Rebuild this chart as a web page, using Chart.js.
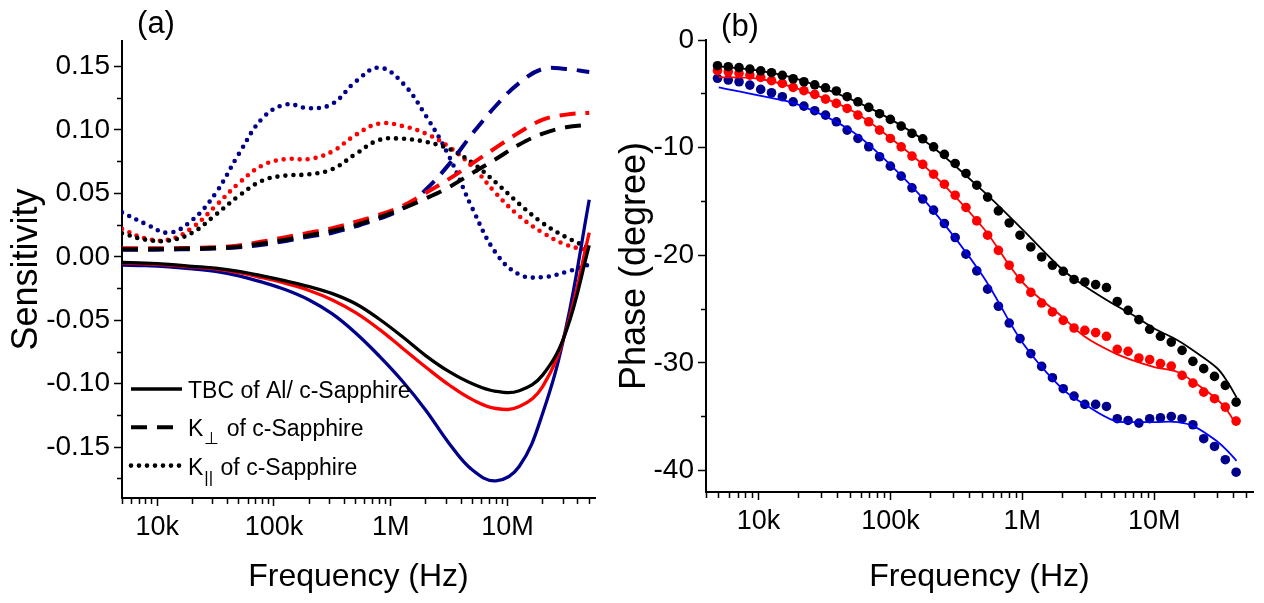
<!DOCTYPE html>
<html>
<head>
<meta charset="utf-8">
<title>Sensitivity and phase vs frequency</title>
<script src="https://cdn.jsdelivr.net/npm/chart.js@4.4.1/dist/chart.umd.min.js"></script>
<style>
  body { margin: 0; background: #fff; }
  #page { position: relative; width: 1264px; height: 603px; overflow: hidden; }
  #sens { position: absolute; left: 0; top: 0; }
  #phase { position: absolute; left: 600px; top: 0; }
</style>
</head>
<body>
<div id="page">
  <canvas id="sens" width="600" height="603"></canvas>
  <canvas id="phase" width="664" height="603"></canvas>
</div>
<script>
// panel (a) - sensitivity, every 0.2 decade
let freqA = [5000, 7940, 12600, 20000, 31600, 50000, 79400, 126000, 200000, 316000, 500000,
  794000, 1260000, 2000000, 3160000, 5000000, 7940000, 12600000, 20000000, 31600000, 50000000]

let tbcBlack = [-0.0045, -0.005, -0.006, -0.0075, -0.009, -0.0115, -0.015, -0.019, -0.0235, -0.029, -0.037,
  -0.049, -0.063, -0.078, -0.0905, -0.100, -0.106, -0.1055, -0.093, -0.059, 0.009]
let tbcRed = [-0.005, -0.0055, -0.0065, -0.008, -0.0095, -0.0125, -0.0165, -0.021, -0.0265, -0.034, -0.044,
  -0.057, -0.072, -0.087, -0.101, -0.1125, -0.1195, -0.118, -0.102, -0.058, 0.019]
let tbcBlue = [-0.0065, -0.007, -0.008, -0.0095, -0.0115, -0.015, -0.020, -0.026, -0.034, -0.045, -0.060,
  -0.078, -0.098, -0.121, -0.147, -0.168, -0.1765, -0.165, -0.123, -0.056, 0.045]

let kPerpBlack = [0.006, 0.006, 0.0063, 0.0065, 0.007, 0.008, 0.0105, 0.0135, 0.017, 0.0205, 0.025,
  0.031, 0.038, 0.046, 0.055, 0.066, 0.077, 0.0885, 0.097, 0.102, 0.104]
let kPerpRed = [0.0068, 0.0068, 0.0068, 0.007, 0.0075, 0.009, 0.012, 0.0155, 0.019, 0.0225, 0.0275,
  0.033, 0.040, 0.0505, 0.0614, 0.0736, 0.086, 0.098, 0.108, 0.112, 0.1134]
let kPerpBlue = [0.0055, 0.0055, 0.0058, 0.006, 0.0065, 0.0075, 0.0095, 0.0125, 0.016, 0.019, 0.024,
  0.030, 0.038, 0.053, 0.073, 0.097, 0.119, 0.137, 0.148, 0.148, 0.1455]

let kParBlack = [0.0186, 0.0135, 0.0128, 0.019, 0.033, 0.048, 0.060, 0.064, 0.065, 0.069, 0.081,
  0.092, 0.093, 0.0905, 0.085, 0.074, 0.0585, 0.0416, 0.0265, 0.0155, 0.007]
let kParRed = [0.022, 0.0145, 0.0135, 0.023, 0.040, 0.058, 0.072, 0.077, 0.077, 0.083, 0.096,
  0.105, 0.103, 0.097, 0.0865, 0.071, 0.050, 0.032, 0.019, 0.0095, 0.005]
let kParBlue = [0.035, 0.026, 0.019, 0.029, 0.050, 0.081, 0.109, 0.120, 0.117, 0.1205, 0.138,
  0.149, 0.137, 0.111, 0.079, 0.038, 0.003, -0.014, -0.016, -0.012, -0.006]

// panel (b) - measured phase (dots) and model fits (lines)
let freqB = [4890, 5900, 7120, 8600, 10390, 12550, 15150, 18300, 22090, 26680, 32210, 38890,
  46960, 56710, 68480, 82690, 99860, 120600, 145600, 175800, 212300, 256400, 309600, 373800,
  451400, 545100, 658200, 794800, 959800, 1159000, 1400000, 1690000, 2041000, 2464000, 2976000,
  3593000, 4339000, 5240000, 6327000, 7640000, 9226000, 11140000, 13450000, 16240000, 19620000,
  23690000, 28600000, 34540000, 41710000]

let phaseBlack = [-2.39, -2.48, -2.57, -2.70, -2.86, -3.04, -3.28, -3.60, -3.88, -4.16, -4.44, -4.74,
  -5.27, -5.74, -6.26, -6.85, -7.38, -8.00, -8.68, -9.18, -9.93, -10.63, -11.47, -12.40,
  -13.49, -14.60, -15.88, -17.0, -18.14, -19.23, -20.16, -20.93, -21.49, -22.25, -22.48,
  -22.73, -23.0, -24.3, -25.12, -25.98, -26.88, -27.53, -28.07, -28.84, -29.86,
  -30.54, -31.26, -32.09, -33.65]
let phaseRed = [-2.85, -2.95, -3.10, -3.26, -3.47, -3.78, -4.03, -4.40, -4.71, -5.05, -5.49, -5.89,
  -6.36, -6.98, -7.60, -8.37, -9.15, -9.93, -10.79, -11.56, -12.47, -13.40, -14.42, -15.56,
  -16.81, -18.14, -19.55, -20.93, -22.2, -23.45, -24.44, -25.27, -26.05, -26.76, -26.98,
  -27.19, -27.53, -28.74, -28.93, -29.55, -29.70, -30.07, -30.30, -31.16, -31.88,
  -32.72, -33.33, -34.11, -35.41]
let phaseBlue = [-3.56, -3.72, -3.88, -4.19, -4.59, -4.90, -5.27, -5.74, -6.14, -6.57, -6.98, -7.60,
  -8.37, -9.15, -9.92, -10.85, -11.72, -12.65, -13.74, -14.78, -15.81, -17.05, -18.35, -19.9,
  -21.45, -23.15, -24.74, -26.30, -27.75, -29.14, -30.33, -31.38, -32.40, -33.09, -33.86,
  -33.86, -34.05, -35.19, -35.35, -35.60, -35.19, -35.10, -34.98, -35.19, -35.75,
  -37.05, -37.77, -39.00, -40.16]

let fitFreq = [5000, 10000, 20000, 50000, 100000, 200000, 500000, 1000000, 2000000, 3000000,
  5000000, 7000000, 10000000, 15000000, 20000000, 30000000, 36000000, 42000000]
let fitBlack = [-2.45, -2.85, -3.65, -5.5, -7.35, -9.75, -14.0, -17.6, -21.3, -22.9,
  -24.6, -25.6, -26.8, -27.9, -28.9, -30.5, -31.8, -33.2]
let fitRed = [-3.45, -3.6, -4.55, -6.5, -9.1, -12.2, -17.4, -22.5, -25.7, -27.6,
  -29.1, -29.8, -30.4, -30.85, -31.8, -33.4, -34.5, -35.8]
let fitBlue = [-4.4, -5.15, -6.0, -8.4, -11.6, -15.5, -21.9, -28.1, -32.4, -33.9,
  -35.4, -35.5, -35.5, -35.5, -35.9, -37.3, -38.2, -39.1]

// axis ticks and labels
let xMajors = [10000, 100000, 1000000, 10000000]
let xLabels = ['10k', '100k', '1M', '10M']
let yMajorsA = [-0.15, -0.10, -0.05, 0, 0.05, 0.10, 0.15]
let yLabelsA = ['-0.15', '-0.10', '-0.05', '0.00', '0.05', '0.10', '0.15']
let yMinorsA = [-0.175, -0.125, -0.075, -0.025, 0.025, 0.075, 0.125]
let yMajorsB = [-40, -30, -20, -10, 0]
let yLabelsB = ['-40', '-30', '-20', '-10', '0']
let yMinorsB = [-35, -25, -15, -5]

let legendMain = ['TBC of Al/ c-Sapphire', 'K', 'K']
let legendSub = ['', '\u22A5', '||']
let legendTail = ['', ' of c-Sapphire', ' of c-Sapphire']
let legendStyle = ['solid', 'dash', 'dot']

let family = "'Liberation Sans', Arial, sans-serif"
let black = '#000000'
let red = '#ff0000'
let navy = '#00008b'
let blue = '#0000ff'

let lineStyles = {
  solid: { borderDash: [], borderWidth: 3.3, borderCapStyle: 'butt' },
  dash: { borderDash: [16, 10], borderWidth: 4, borderCapStyle: 'butt' },
  dot: { borderDash: [0, 8], borderWidth: 4.6, borderCapStyle: 'round' }
}

Chart.defaults.font.family = family
Chart.defaults.color = '#000'

function pts(xs, ys) {
  return xs.map(function (x, i) { return { x: x, y: ys[i] } })
}

function logTicks(min, max) {
  let out = []
  for (let e = 3; e <= 8; e++) {
    for (let m = 1; m <= 9; m++) {
      let v = m * Math.pow(10, e)
      if (v >= min && v <= max) out.push(v)
    }
  }
  return out
}

function findLabel(majors, labels, v) {
  let i = majors.findIndex(function (m) { return Math.abs(m - v) < 1e-9 })
  return i >= 0 ? labels[i] : ''
}

function xAxis(min, max, height, pad) {
  return {
    type: 'logarithmic',
    min: min,
    max: max,
    afterBuildTicks: function (s) {
      s.ticks = logTicks(min, max).map(function (v) { return { value: v, major: xMajors.includes(v) } })
    },
    afterFit: function (s) { s.height = height },
    ticks: {
      autoSkip: false, maxRotation: 0, minRotation: 0, padding: pad,
      font: { size: 27 }, color: '#000',
      callback: function (v) { return findLabel(xMajors, xLabels, v) }
    },
    grid: {
      drawOnChartArea: false, drawTicks: true, tickLength: 8, tickColor: '#000', tickWidth: 1.5,
      tickBorderDash: function (ctx) { return ctx.tick && ctx.tick.major ? [] : [5, 100] }
    },
    border: { display: true, color: '#000', width: 2 },
    title: { display: true, text: 'Frequency (Hz)', font: { size: 32 }, color: '#000', padding: { top: 0, bottom: 7 } }
  }
}

function yAxis(min, max, majors, minors, labels, width, titleText, titlePad, tickPad) {
  let all = majors.concat(minors).sort(function (a, b) { return a - b })
  return {
    type: 'linear',
    min: min,
    max: max,
    afterBuildTicks: function (s) {
      s.ticks = all.map(function (v) { return { value: v, major: majors.includes(v) } })
    },
    afterFit: function (s) { s.width = width },
    ticks: {
      autoSkip: false, padding: tickPad, font: { size: 28 }, color: '#000',
      callback: function (v) { return findLabel(majors, labels, v) }
    },
    grid: {
      drawOnChartArea: false, drawTicks: true, tickLength: 8, tickColor: '#000', tickWidth: 1.5,
      tickBorderDash: function (ctx) { return ctx.tick && ctx.tick.major ? [] : [0, 3, 5, 100] }
    },
    border: { display: true, color: '#000', width: 2 },
    title: { display: true, text: titleText, font: { size: 36 }, color: '#000', padding: { top: titlePad, bottom: 0 } }
  }
}

function curve(ys, color, style) {
  let st = lineStyles[style]
  return {
    data: pts(freqA, ys),
    borderColor: color,
    borderWidth: st.borderWidth,
    borderDash: st.borderDash,
    borderCapStyle: st.borderCapStyle,
    pointRadius: 0,
    fill: false,
    tension: 0.4
  }
}

let panelLabel = {
  id: 'panelLabel',
  afterDraw: function (chart, args, opts) {
    let ctx = chart.ctx
    ctx.save()
    ctx.font = '31px ' + family
    ctx.fillStyle = '#000'
    ctx.textAlign = 'center'
    ctx.textBaseline = 'middle'
    ctx.fillText(opts.text, opts.x, opts.y)
    ctx.restore()
  }
}

let sampleLegend = {
  id: 'sampleLegend',
  afterDraw: function (chart) {
    let ctx = chart.ctx
    let left = chart.chartArea.left
    ctx.save()
    legendMain.forEach(function (name, i) {
      let y = 389 + i * 38.3
      let st = lineStyles[legendStyle[i]]
      ctx.strokeStyle = '#000'
      ctx.lineWidth = st.borderWidth
      ctx.lineCap = st.borderCapStyle
      ctx.setLineDash(st.borderDash)
      ctx.beginPath()
      ctx.moveTo(left + 9, y)
      ctx.lineTo(left + 60, y)
      ctx.stroke()
      ctx.setLineDash([])

      ctx.fillStyle = '#000'
      ctx.textAlign = 'left'
      ctx.textBaseline = 'alphabetic'
      ctx.font = '23px ' + family
      let x = left + 66
      let base = y + 9
      ctx.fillText(name, x, base)
      x += ctx.measureText(name).width
      if (legendSub[i]) {
        ctx.font = '17px ' + family
        ctx.fillText(legendSub[i], x + 1, base + 8)
        x += ctx.measureText(legendSub[i]).width + 2
        ctx.font = '23px ' + family
        ctx.fillText(legendTail[i], x, base)
      }
    })
    ctx.restore()
  }
}

new Chart(document.querySelector('#sens'), {
  type: 'line',
  data: {
    datasets: [
      curve(tbcBlack, black, 'solid'),
      curve(tbcRed, red, 'solid'),
      curve(tbcBlue, navy, 'solid'),
      curve(kPerpBlack, black, 'dash'),
      curve(kPerpRed, red, 'dash'),
      curve(kPerpBlue, navy, 'dash'),
      curve(kParBlack, black, 'dot'),
      curve(kParRed, red, 'dot'),
      curve(kParBlue, navy, 'dot')
    ]
  },
  options: {
    responsive: false,
    animation: false,
    events: [],
    layout: { padding: { top: 41, right: 5, bottom: 0, left: 0 } },
    scales: {
      x: xAxis(5000, 56000000, 105, 5.5),
      y: yAxis(-0.19, 0.17, yMajorsA, yMinorsA, yLabelsA, 122, 'Sensitivity', 5, 4)
    },
    plugins: {
      legend: { display: false },
      tooltip: { enabled: false },
      panelLabel: { text: '(a)', x: 156, y: 24 }
    }
  },
  plugins: [panelLabel, sampleLegend]
})

function dots(ys, color) {
  return {
    data: pts(freqB, ys),
    showLine: false,
    pointRadius: 4.8,
    pointBorderWidth: 0,
    pointBackgroundColor: color,
    borderColor: color
  }
}

function fit(ys, color) {
  return {
    data: pts(fitFreq, ys),
    borderColor: color,
    borderWidth: 1.8,
    pointRadius: 0,
    fill: false,
    tension: 0.35
  }
}

new Chart(document.querySelector('#phase'), {
  type: 'line',
  data: {
    datasets: [
      fit(fitBlack, black),
      fit(fitRed, red),
      fit(fitBlue, blue),
      dots(phaseBlack, black),
      dots(phaseRed, red),
      dots(phaseBlue, navy)
    ]
  },
  options: {
    responsive: false,
    animation: false,
    events: [],
    layout: { padding: { top: 40, right: 11, bottom: 0, left: 0 } },
    scales: {
      x: xAxis(4000, 56000000, 111, 5.5),
      y: yAxis(-42, 0, yMajorsB, yMinorsB, yLabelsB, 106, 'Phase (degree)', 13, 4)
    },
    plugins: {
      legend: { display: false },
      tooltip: { enabled: false },
      panelLabel: { text: '(b)', x: 140, y: 27 }
    }
  },
  plugins: [panelLabel]
})
</script>
</body>
</html>
